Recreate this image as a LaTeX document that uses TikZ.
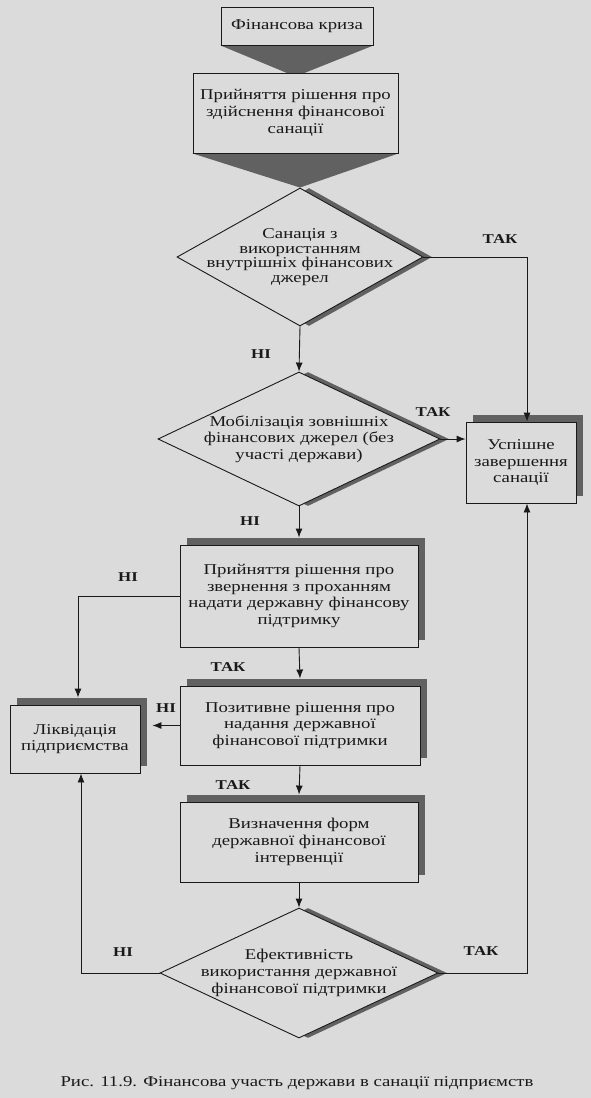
\documentclass[tikz,border=0pt]{standalone}
\usepackage{fontspec}
\setmainfont{Liberation Serif}[FakeStretch=1.25]
\usepackage{tikz}
\usetikzlibrary{arrows.meta,positioning,shapes.geometric,shadows,backgrounds,calc}
\definecolor{paper}{gray}{0.86}
\definecolor{shadowgray}{gray}{0.38}
\definecolor{ink}{gray}{0.1}

\begin{document}
\begin{tikzpicture}[x=1pt,y=-1pt,
  every node/.style={font=\fontsize{15}{16.7}\selectfont,text=ink},
  blk/.style={draw=ink,line width=0.9pt,fill=paper,align=center,inner sep=2pt},
  shd/.style={drop shadow={shadow xshift=7pt,shadow yshift=7pt,fill=shadowgray,opacity=1}},
  dec/.style={draw=ink,line width=0.9pt,fill=paper,diamond,inner sep=0pt,
    drop shadow={shadow xshift=9pt,shadow yshift=0pt,fill=shadowgray,opacity=1}},
  dtxt/.style={align=center,inner sep=0pt},
  lbl/.style={font=\bfseries\fontsize{13.5}{15}\selectfont},
  arr/.style={draw=ink,line width=0.9pt,-{Latex[length=9pt,width=7pt]}}]
  \useasboundingbox (0,0) rectangle (591,1098);

  % boxes of the main chain
  \node[blk,minimum width=152pt,minimum height=38pt] (crisis) at (297,26) {Фінансова криза};
  \node[blk,minimum width=205pt,minimum height=80pt] (decide) at (295.5,113)
    {Прийняття рішення про\\здійснення фінансової\\санації};
  \node[dec,minimum width=246pt,minimum height=138pt] (inner) at (300,257) {};
  \node[dtxt,font=\fontsize{15}{14.5}\selectfont] (innert) at (inner.center)
    {Санація з\\використанням\\внутрішніх фінансових\\джерел};
  \node[dec,minimum width=282pt,minimum height=134pt] (outer) at (299,439) {};
  \node[dtxt] (outert) at (outer.center)
    {Мобілізація зовнішніх\\фінансових джерел (без\\участі держави)};
  \node[blk,shd,minimum width=110pt,minimum height=81pt] (done) at (521,462.5)
    {Успішне\\завершення\\санації};
  \node[blk,shd,minimum width=238pt,minimum height=102pt] (appeal) at (299,596)
    {Прийняття рішення про\\звернення з проханням\\надати державну фінансову\\підтримку};
  \node[blk,shd,minimum width=240pt,minimum height=79pt] (approve) at (300,725.5)
    {Позитивне рішення про\\надання державної\\фінансової підтримки};
  \node[blk,shd,minimum width=130pt,minimum height=68pt] (liquid) at (75,739)
    {Ліквідація\\підприємства};
  \node[blk,shd,minimum width=238pt,minimum height=80pt] (forms) at (299,842)
    {Визначення форм\\державної фінансової\\інтервенції};
  \node[dec,minimum width=278pt,minimum height=130pt] (effect) at (299,973) {};
  \node[dtxt] (effectt) at (effect.center)
    {Ефективність\\використання державної\\фінансової підтримки};

  % shaded arrows under the first two boxes
  \begin{pgfonlayer}{background}
    \fill[paper] (0,0) rectangle (591,1098);
    \fill[shadowgray] (crisis.south west) -- (crisis.south east) -- ([yshift=-4pt]decide.north) -- cycle;
    \fill[shadowgray] (decide.south west) -- (decide.south east) -- (inner.north) -- cycle;
  \end{pgfonlayer}

  % connectors
  \draw[arr] (inner.east) -| ([xshift=6pt]done.north);
  \node[lbl] (y1) at (500,239) {ТАК};
  \draw[arr] (inner.south) -- (outer.north);
  \node[lbl] (n1) at (261,354) {НІ};
  \draw[arr] (outer.east) -- (outer.east -| done.west);
  \node[lbl] (y2) at (433,412) {ТАК};
  \draw[arr] (outer.south) -- ([yshift=7pt]appeal.north);
  \node[lbl] (n2) at (250,521) {НІ};
  \draw[arr] (appeal.west) -| ([xshift=3pt,yshift=7pt]liquid.north);
  \node[lbl] (n3) at (128,577) {НІ};
  \draw[arr] (appeal.south) -- ([yshift=7pt]approve.north);
  \node[lbl] (y3) at (228,667) {ТАК};
  \draw[arr] (approve.west) -- ([xshift=12pt]approve.west -| liquid.east);
  \node[lbl] (n4) at (166,708) {НІ};
  \draw[arr] (approve.south) -- ([yshift=7pt]forms.north);
  \node[lbl] (y4) at (233,785) {ТАК};
  \draw[arr] (forms.south) -- (effect.north);
  \draw[arr] (effect.west) -| ([xshift=6pt]liquid.south);
  \node[lbl] (n5) at (123,952) {НІ};
  \draw[arr] (effect.east) -| ([xshift=6pt]done.south);
  \node[lbl] (y5) at (481,951) {ТАК};

  \node (caption) at (297,1083) {Рис. 11.9. Фінансова участь держави в санації підприємств};
\end{tikzpicture}
\end{document}
